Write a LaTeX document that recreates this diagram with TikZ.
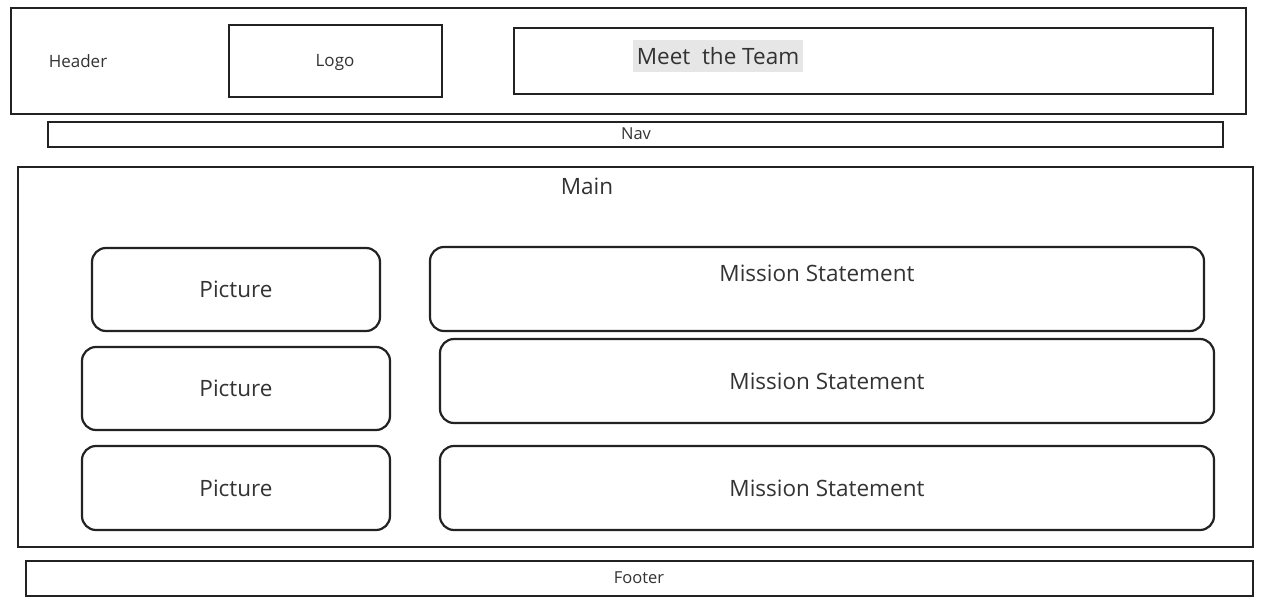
\documentclass[tikz,border=0pt]{standalone}
\usepackage{fontspec}
\setmainfont{Open Sans}
\definecolor{ink}{HTML}{222222}
\definecolor{txt}{HTML}{333333}
\definecolor{hl}{HTML}{E6E6E6}
\begin{document}
\begin{tikzpicture}[x=1pt,y=-1pt,
  box/.style={draw=ink,line width=2.4pt,inner sep=0pt},
  rbox/.style={draw=ink,line width=2.2pt,rounded corners=14pt,inner sep=0pt},
  lbl/.style={text=txt,inner sep=0pt},
  big/.style={font=\fontsize{22.5}{26}\selectfont},
  mid/.style={font=\fontsize{17}{20}\selectfont},
]
\useasboundingbox[fill=white] (0,0) rectangle (1267,607);
% header
\draw[box] (11,8) rectangle (1246,114);
\node[lbl,mid] (header) at (78,61) {Header};
\draw[box] (229,25) rectangle (442,97);
\node[lbl,mid] (logo) at (335,62) {Logo};
\draw[box] (514,28) rectangle (1213,94);
\node[lbl,big,fill=hl,inner xsep=3.5pt,minimum height=32pt] (meet) at (718,56) {Meet\ \ the Team};
% nav
\draw[box] (48,122) rectangle (1223,147);
\node[lbl,font=\fontsize{16.5}{19}\selectfont] (nav) at (636,134) {Nav};
% main
\draw[box] (18,167) rectangle (1253,547);
\node[lbl,big] (main) at (587,186) {Main};
% pictures
\draw[rbox] (92,248) rectangle (380,331);
\node[lbl,big] (p1) at (236,289) {Picture};
\draw[rbox] (82,347) rectangle (390,430);
\node[lbl,big] (p2) at (236,388) {Picture};
\draw[rbox] (82,446) rectangle (390,530);
\node[lbl,big] (p3) at (236,488) {Picture};
% missions
\draw[rbox] (430,247) rectangle (1204,331);
\node[lbl,big] (m1) at (817,273) {Mission Statement};
\draw[rbox] (440,339) rectangle (1214,423);
\node[lbl,big] (m2) at (827,381) {Mission Statement};
\draw[rbox] (440,446) rectangle (1214,530);
\node[lbl,big] (m3) at (827,488) {Mission Statement};
% footer
\draw[box] (26,561) rectangle (1253,596);
\node[lbl,font=\fontsize{16.5}{19}\selectfont] (footer) at (639,578) {Footer};
\end{tikzpicture}
\end{document}
